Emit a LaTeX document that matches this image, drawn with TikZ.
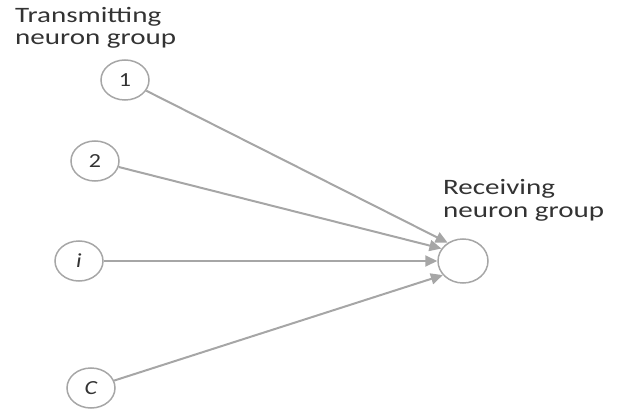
\documentclass[tikz,border=0pt]{standalone}
\usepackage{fontspec}
\setmainfont{Carlito}
\usetikzlibrary{arrows.meta,shapes.geometric}
\definecolor{ln}{HTML}{A6A6A6}
\definecolor{tx}{HTML}{333333}
\begin{document}
\begin{tikzpicture}[x=1pt,y=-1pt,
  neuron/.style={ellipse, draw=ln, line width=1.5pt, minimum width=48pt, minimum height=40pt, inner sep=0pt, text=tx, font=\fontsize{20}{20}\selectfont},
  lbl/.style={anchor=base west, inner sep=0pt, text=tx, font=\fontsize{22}{22}\selectfont},
  conn/.style={color=ln, line width=2pt, -{Triangle[length=12pt,width=11pt]}}]
\useasboundingbox (0,0) rectangle (618,414);
\node[lbl] (t1) at (15,23) {\scalebox{1.32}[1]{Transmitting}};
\node[lbl] (t2) at (15,45) {\scalebox{1.32}[1]{neuron group}};
\node[lbl] (r1) at (443,195) {\scalebox{1.32}[1]{Receiving}};
\node[lbl] (r2) at (443,217) {\scalebox{1.32}[1]{neuron group}};
\node[neuron] (n1) at (125,80) {\scalebox{1.2}[1]{1}};
\node[neuron] (n2) at (95,161) {\scalebox{1.2}[1]{2}};
\node[neuron] (ni) at (79,261) {\scalebox{1.2}[1]{\itshape i}};
\node[neuron] (nc) at (91,388) {\scalebox{1.2}[1]{\itshape C}};
\node[neuron, minimum width=50pt, minimum height=44pt] (r) at (463,261) {};
\draw[conn] (n1) -- (r.130);
\draw[conn] (n2) -- (r.150);
\draw[conn] (ni) -- (r.180);
\draw[conn] (nc) -- (r.215);
\end{tikzpicture}
\end{document}
